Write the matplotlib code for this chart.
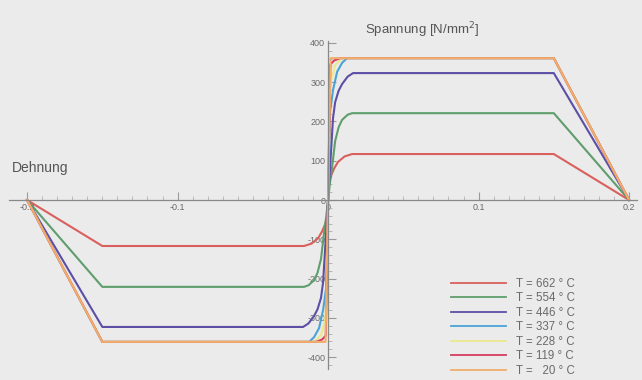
import matplotlib
matplotlib.use("Agg")
import matplotlib.pyplot as plt
import numpy as np
from matplotlib.ticker import FixedLocator, FuncFormatter

plt.rcParams.update({
    "font.family": ["Liberation Sans", "DejaVu Sans"],
    "axes.linewidth": 0.9,
})

# ---- data (positive branch; the chart is point-symmetric)
temps = ["662", "554", "446", "337", "228", "119", "20"]
colors = ["#d9605c", "#5f9e6c", "#5b4fa6", "#4aa3d6", "#ece98c", "#d63c5e", "#f0ad6c"]

strain_662 = [0, 0.0005, 0.002, 0.004, 0.0066, 0.011, 0.016, 0.15, 0.2]
stress_662 = [0, 43, 62, 80, 97, 111, 117, 117, 0]

strain_554 = [0, 0.0013, 0.0027, 0.0047, 0.007, 0.0093, 0.013, 0.016, 0.15, 0.2]
stress_554 = [0, 45, 84, 150, 185, 204, 217, 221, 221, 0]

strain_446 = [0, 0.002, 0.0033, 0.0047, 0.007, 0.0093, 0.013, 0.0166, 0.15, 0.2]
stress_446 = [0, 127, 209, 249, 278, 295, 314, 323, 323, 0]

strain_337 = [0, 0.0013, 0.0033, 0.006, 0.0093, 0.0126, 0.15, 0.2]
stress_337 = [0, 224, 280, 326, 349, 361, 361, 0]

strain_228 = [0, 0.0008, 0.002, 0.0047, 0.0093, 0.15, 0.2]
stress_228 = [0, 240, 305, 344, 361, 361, 0]

strain_119 = [0, 0.0015, 0.004, 0.008, 0.15, 0.2]
stress_119 = [0, 345, 355, 361, 361, 0]

strain_20 = [0, 0.0017, 0.15, 0.2]
stress_20 = [0, 361, 361, 0]

curves = [
    (strain_662, stress_662), (strain_554, stress_554), (strain_446, stress_446),
    (strain_337, stress_337), (strain_228, stress_228), (strain_119, stress_119),
    (strain_20, stress_20),
]

x_major = [-0.2, -0.1, 0.0, 0.1, 0.2]
y_major = [-400, -300, -200, -100, 0, 100, 200, 300, 400]

GREY = "#6a6a6a"

fig = plt.figure(figsize=(6.42, 3.80), dpi=100, facecolor="#ebebeb")
ax = fig.add_axes([0, 0, 1, 1])
ax.set_facecolor("#ebebeb")

for (eps, sig), T, c in zip(curves, temps, colors):
    eps = np.asarray(eps)
    sig = np.asarray(sig)
    x = np.concatenate([-eps[::-1], eps[1:]])
    y = np.concatenate([-sig[::-1], sig[1:]])
    label = f"T = {T} ° C" if len(T) == 3 else f"T =   {T} ° C"
    ax.plot(x, y, color=c, lw=1.5, label=label, solid_joinstyle="round")

ax.set_xlim(-0.218, 0.2086)
ax.set_ylim(-458, 509)

for s in ["top", "right"]:
    ax.spines[s].set_visible(False)
ax.spines["left"].set_position(("data", 0))
ax.spines["bottom"].set_position(("data", 0))
ax.spines["left"].set_bounds(-430, 405)
ax.spines["bottom"].set_bounds(-0.212, 0.205)
ax.spines["left"].set_color("#888888")
ax.spines["bottom"].set_color("#888888")

ax.xaxis.set_major_locator(FixedLocator(x_major))
ax.xaxis.set_minor_locator(FixedLocator(np.arange(-0.2, 0.2001, 0.01)))
ax.yaxis.set_major_locator(FixedLocator(y_major))
ax.yaxis.set_minor_locator(FixedLocator(np.arange(-420, 401, 20)))
ax.xaxis.set_major_formatter(FuncFormatter(lambda v, p: "0" if abs(v) < 1e-9 else f"{v:.1f}"))
ax.yaxis.set_major_formatter(FuncFormatter(lambda v, p: f"{v:.0f}"))
ax.tick_params(axis="both", which="major", direction="in", length=6, width=0.8,
               colors="#9a9a9a", labelcolor=GREY, labelsize=6.5, pad=2)
ax.tick_params(axis="both", which="minor", direction="in", length=3, width=0.6,
               colors="#b0b0b0")

fig.text(12 / 642, 1 - 168 / 380, "Dehnung", fontsize=10, color="#555555", va="center")
fig.text(365 / 642, 1 - 30 / 380, "Spannung [N/mm$^2$]", fontsize=9.5, color="#555555",
         va="center")

leg = ax.legend(loc="upper left", bbox_to_anchor=(445 / 642, 1 - 272 / 380),
                bbox_transform=fig.transFigure, frameon=False, fontsize=8.3,
                handlelength=4.8, handletextpad=0.9, labelspacing=0.22, borderpad=0)
for t in leg.get_texts():
    t.set_color(GREY)
for h in leg.get_lines():
    h.set_linewidth(1.3)

fig.savefig("out.png", dpi=100, facecolor=fig.get_facecolor())
